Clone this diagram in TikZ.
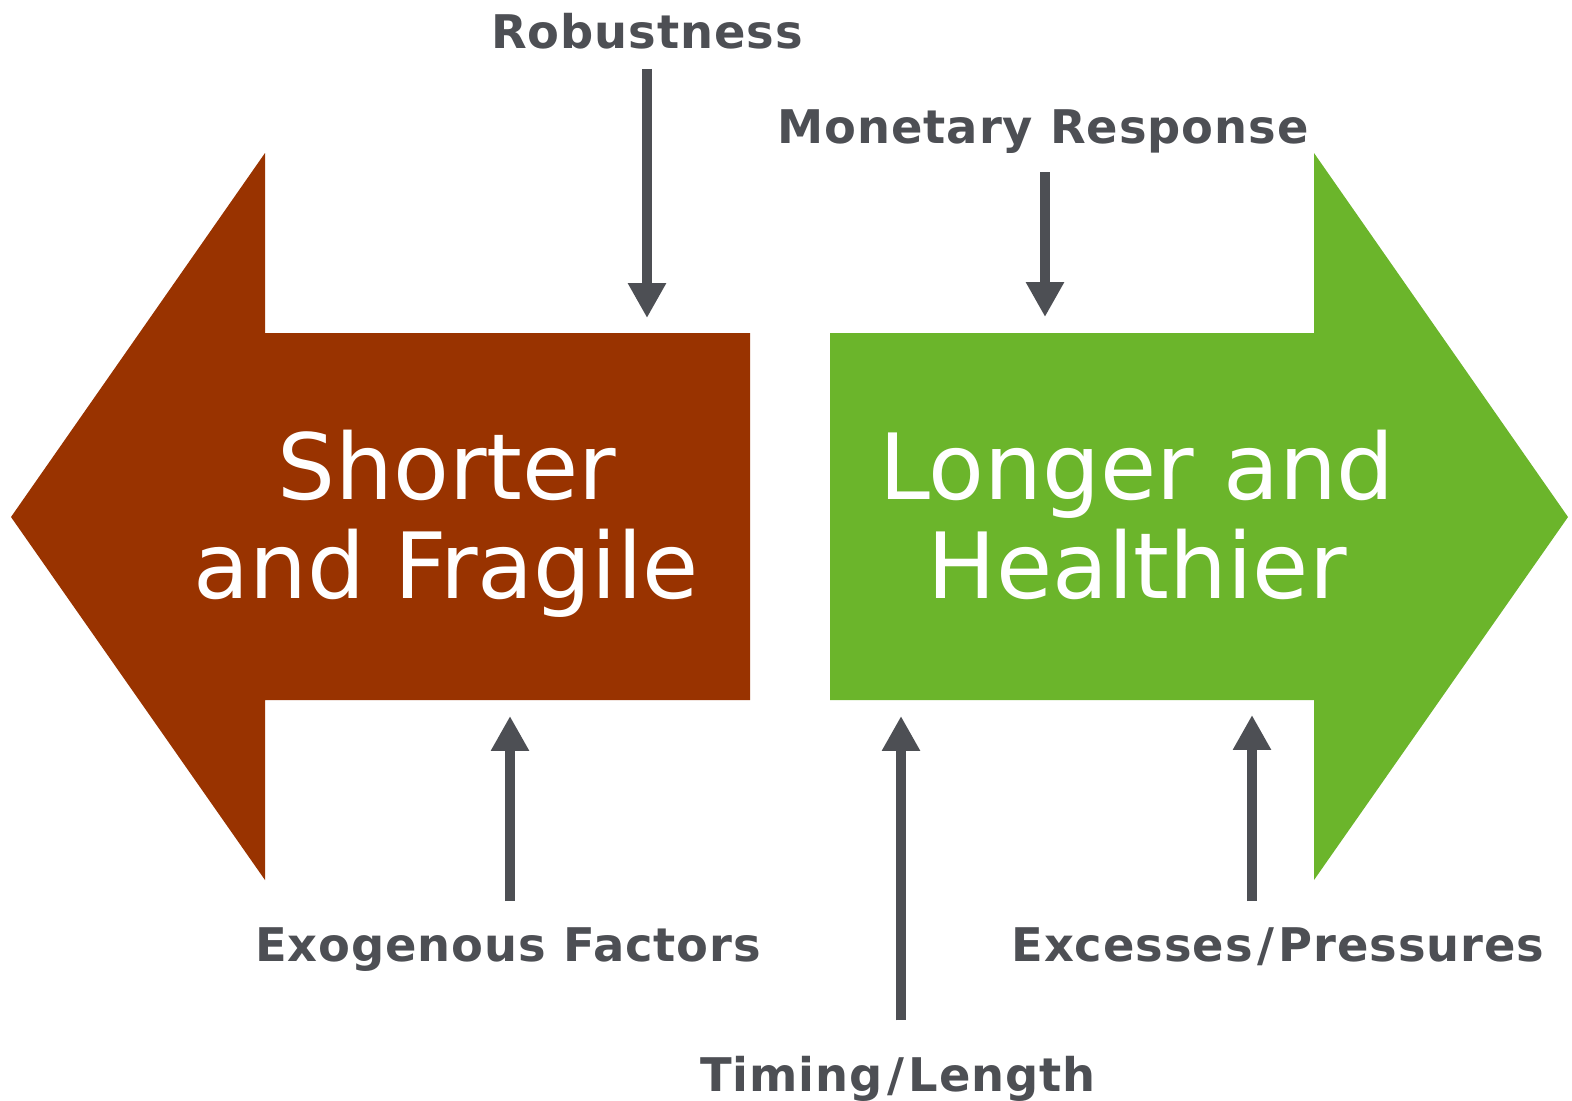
\documentclass[tikz,border=0pt]{standalone}
\usepackage{fontspec}
\setmainfont{DejaVu Sans}
\usetikzlibrary{arrows.meta}

\definecolor{fragile}{HTML}{993300}
\definecolor{healthy}{HTML}{6BB52B}
\definecolor{driver}{HTML}{4D4F54}

% slash with a little room on both sides
\newcommand{\fslash}{\kern2.5pt/\kern2.5pt}

\begin{document}
\begin{tikzpicture}[x=0.02cm, y=-0.02cm]

\tikzset{factor/.style = {font=\fontsize{26.4}{30}\selectfont\bfseries\addfontfeature{LetterSpace=2}, text=driver, anchor=base, inner sep=0pt}}
\tikzset{title/.style = {font=\fontsize{52}{56}\selectfont, text=white, anchor=base, inner sep=0pt}}
\tikzset{push/.style = {-{Triangle[length=19.8pt,width=20.4pt]}, line width=5.7pt, draw=driver}}

\useasboundingbox (0,0) rectangle (1572,1100);

% the two big arrows
\fill[fragile] (11,517) -- (265,153) -- (265,333) -- (750,333) -- (750,700)
  -- (265,700) -- (265,880) -- cycle;
\fill[healthy] (1568,517) -- (1314,153) -- (1314,333) -- (830,333) -- (830,700)
  -- (1314,700) -- (1314,880) -- cycle;

\node[title] (short1) at (447,499) {Shorter};
\node[title] (short2) at (446,598) {and Fragile};
\node[title] (long1) at (1137,499) {Longer and};
\node[title] (long2) at (1137,598) {Healthier};

% factors
\node[factor] (rob) at (647,48) {Robustness};
\node[factor] (mon) at (1043,143) {Monetary Response};
\node[factor] (exo) at (508,961) {Exogenous Factors};
\node[factor] (exc) at (1278,961) {Excesses\fslash Pressures};
\node[factor] (tim) at (898,1091) {Timing\fslash Length};

\coordinate (rob-tip) at (647,318);
\coordinate (mon-tip) at (1045,317);
\coordinate (exo-tip) at (510,716);
\coordinate (exc-tip) at (1252,715);
\coordinate (tim-tip) at (901,716);

%edges
\draw[push, shorten <=11.3pt] (rob-tip |- rob.south) -- (rob-tip);
\draw[push, shorten <=10.8pt] (mon-tip |- mon.south) -- (mon-tip);
\draw[push, shorten <=14.7pt] (exo-tip |- exo.north) -- (exo-tip);
\draw[push, shorten <=14.7pt] (exc-tip |- exc.north) -- (exc-tip);
\draw[push, shorten <=20pt] (tim-tip |- tim.north) -- (tim-tip);

\end{tikzpicture}
\end{document}
